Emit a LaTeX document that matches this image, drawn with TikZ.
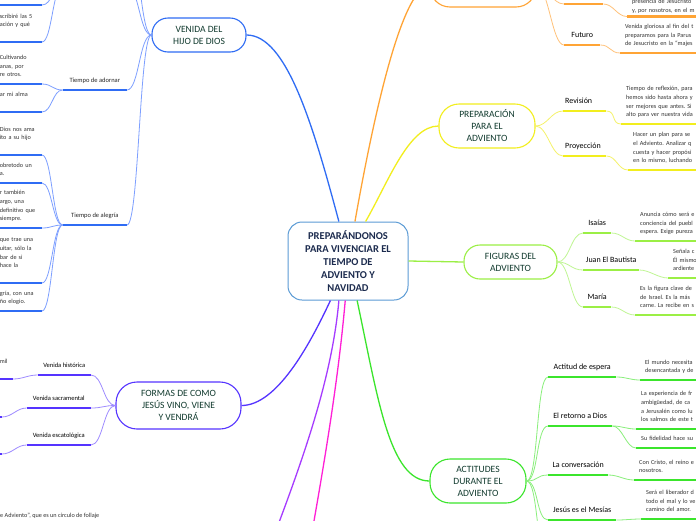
\documentclass[tikz,border=0pt]{standalone}
\usepackage{fontspec}
\setmainfont{Carlito}
\frenchspacing
\definecolor{rootline}{HTML}{5B9BD5}
\definecolor{roottext}{HTML}{1C2B4E}
\definecolor{headtext}{HTML}{123B2F}
\definecolor{leaftext}{HTML}{333333}
\definecolor{venc}{HTML}{2F6CF4}
\definecolor{venl}{HTML}{7D9FFF}
\definecolor{orac}{HTML}{FFA435}
\definecolor{oral}{HTML}{FFC27A}
\definecolor{prec}{HTML}{F2EE1E}
\definecolor{prel}{HTML}{F5F26A}
\definecolor{figc}{HTML}{9BEF45}
\definecolor{figl}{HTML}{C0F694}
\definecolor{actc}{HTML}{3BE52C}
\definecolor{actl}{HTML}{8AEF7C}
\definecolor{forc}{HTML}{5534FF}
\definecolor{forl}{HTML}{9F8CFF}
\definecolor{purc}{HTML}{A63BFF}
\definecolor{magc}{HTML}{FF1FD6}

\begin{document}
\begin{tikzpicture}[x=1pt,y=-1pt,
  root/.style={draw=rootline,line width=1pt,rounded corners=14pt,fill=white,
    align=center,text=roottext,minimum width=120pt,minimum height=78pt,
    font=\bfseries\fontsize{10.5}{13}\selectfont},
  topic/.style={draw=#1,line width=1.1pt,rounded corners=16pt,fill=white,
    align=center,text=headtext,font=\fontsize{9.6}{12}\selectfont},
  ul/.style={append after command={(\tikzlastnode.south west)
    edge[draw=#1,line width=2.2pt] (\tikzlastnode.south east)}},
  sub/.style={inner xsep=2pt,inner ysep=0pt,text depth=7.5pt,text=black,
    font=\fontsize{8}{10}\selectfont},
  subl/.style={sub,anchor=south east,text=black!85,font=\fontsize{6.5}{8}\selectfont},
  subr/.style={sub,anchor=south west},
  leaf/.style={align=left,text width=100pt,inner xsep=5pt,inner ysep=4.4pt,
    text=leaftext,font=\fontsize{6.2}{8.7}\selectfont,execute at end node=\strut},
  leafl/.style={leaf,anchor=south east,text width=40pt,inner xsep=2pt},
  leafr/.style={leaf,anchor=south west},
  deep/.style={inner ysep=12.4pt},
  branch/.style={line width=1.3pt},
  link/.style={line width=0.8pt},
  lt/.style={out=180,in=0,distance=#1},lt/.default=10pt,
  rt/.style={out=0,in=180,distance=#1},rt/.default=10pt]
  \useasboundingbox[fill=white] (0,0) rectangle (696,520);
  \clip (0,0) rectangle (696,520);

  \node[root] (root) at (348,261) {PREPARÁNDONOS\\PARA VIVENCIAR EL\\TIEMPO DE\\ADVIENTO Y\\NAVIDAD};

  % venida del hijo de dios
  \node[topic=venc,minimum width=94pt,minimum height=34pt] (venida) at (199,35) {VENIDA DEL\\HIJO DE DIOS};
  \node[subl,minimum width=64pt,ul=venc] (vtop) at (127,-14) {};
  \node[subl,minimum width=64pt,ul=venc] (vtop2) at (127,-70) {};
  \node[subl,minimum width=64pt,ul=venc] (adornar) at (127,90) {Tiempo de adornar};
  \node[subl,minimum width=64pt,ul=venc] (alegria) at (127,225) {Tiempo de alegría};
  \node[leafl,ul=venc] (tla) at (42,5) {};
  \node[leafl,deep,ul=venc] (tlb) at (42,42) {scribiré las 5\\ación y qué};
  \node[leafl,ul=venc] (ad1) at (42,84) {Cultivando\\anas, por\\re otros.};
  \node[leafl,deep,ul=venc] (ad2) at (42,112) {ar mi alma};
  \node[leafl,deep,ul=venc] (al1) at (42,155) {Dios nos ama\\ito a su hijo};
  \node[leafl,ul=venc] (al2) at (42,183) {obretodo un\\a.};
  \node[leafl,ul=venc] (al3) at (42,228) {r también\\argo, una\\definitivo que\\siempre.};
  \node[leafl,deep,ul=venc] (al4) at (42,283) {que trae una\\uitar, sólo la\\bar de si\\hace la};
  \node[leafl,ul=venc] (al5) at (42,311) {gría, con una\\ño elogio.};

  % formas de como
  \node[topic=forc,rounded corners=21pt,minimum width=125pt,minimum height=47pt] (formas) at (178.5,405.5) {FORMAS DE COMO\\JESÚS VINO, VIENE\\Y VENDRÁ};
  \node[subl,text=black,minimum width=53pt,ul=forc] (hist) at (91,375) {Venida histórica};
  \node[subl,text=black,minimum width=64pt,ul=forc] (sacr) at (91,408) {Venida sacramental};
  \node[subl,text=black,minimum width=64pt,ul=forc] (esca) at (91,445) {Venida escatológica};
  \node[leafl,deep,text width=11pt,ul=forc] (hist1) at (13,379) {mil};
  \node[leafl,text width=4pt,ul=forc] (sacr1) at (2,417) {};
  \node[leafl,text width=4pt,ul=forc] (esca1) at (2,454) {};
  \node[anchor=base west,inner sep=0pt,text=leaftext,font=\fontsize{6.2}{8.7}\selectfont] (corona) at (0,517.5) {e Adviento”, que es un círculo de follaje};

  \coordinate (purpura) at (250,600);
  \coordinate (magenta) at (300,600);

  % orange, off the top
  \node[topic=orac,rounded corners=20pt,minimum width=106pt,minimum height=42pt] (ora) at (483,-14) {};
  \node[subr,minimum width=39pt,ul=orac] (pres) at (564,4) {};
  \node[subr,minimum width=36pt,ul=orac] (futuro) at (564,45) {Futuro};
  \node[leafr,inner ysep=1pt,ul=orac] (presl) at (627,16.5) {presencia de Jesucristo\\y, por nosotros, en el m};
  \node[leafr,ul=orac] (futurol) at (620,53) {Venida gloriosa al fin del t\\preparamos para la Parus\\de Jesucristo en la “majes};

  % preparacion
  \node[topic=prec,rounded corners=20pt,minimum width=96pt,minimum height=44pt] (prep) at (487,126) {PREPARACIÓN\\PARA EL\\ADVIENTO};
  \node[subr,text width=39pt,align=left,ul=prec] (revision) at (563,111) {Revisión};
  \node[subr,text width=39pt,align=left,ul=prec] (proyeccion) at (563,156) {Proyección};
  \node[leafr,ul=prec] (revl) at (621,124) {Tiempo de reflexión, para\\hemos sido hasta ahora y\\ser mejores que antes. Si\\alto para ver nuestra vida};
  \node[leafr,ul=prec] (proyl) at (628,170) {Hacer un plan para se\\el Adviento. Analizar q\\cuesta y hacer propósi\\en lo mismo, luchando};

  % figuras
  \node[topic=figc,minimum width=93pt,minimum height=34pt] (figuras) at (510.5,262) {FIGURAS DEL\\ADVIENTO};
  \node[subr,minimum width=28pt,ul=figc] (isaias) at (583,233) {Isaías};
  \node[subr,minimum width=56pt,ul=figc] (juan) at (583,270) {Juan El Bautista};
  \node[subr,minimum width=28pt,ul=figc] (maria) at (583,307) {María};
  \node[leafr,ul=figc] (isal) at (635,241) {Anuncia cómo será e\\conciencia del puebl\\espera. Exige pureza};
  \node[leafr,ul=figc] (juanl) at (668,278) {Señala c\\Él mismo\\ardiente};
  \node[leafr,ul=figc] (marial) at (635,315) {Es la figura clave de\\de Israel. Es la más\\carne. La recibe en s};

  % actitudes
  \node[topic=actc,rounded corners=20pt,minimum width=96pt,minimum height=44pt] (actitudes) at (478,481) {ACTITUDES\\DURANTE EL\\ADVIENTO};
  \node[subr,minimum width=68pt,ul=actc] (espera) at (548,377) {Actitud de espera};
  \node[subr,minimum width=64pt,ul=actc] (retorno) at (548,426) {El retorno a Dios};
  \node[subr,minimum width=60pt,ul=actc] (conversion) at (548,475) {La conversación};
  \node[subr,minimum width=68pt,ul=actc] (mesias) at (548,520) {Jesús es el Mesías};
  \coordinate (actmas) at (548,560);
  \node[leafr,ul=actc] (esperal) at (640,380) {El mundo necesita\\desencantada y de};
  \node[leafr,ul=actc] (retornol) at (636,429) {La experiencia de fr\\ambigüedad, de ca\\a Jerusalén como lu\\los salmos de este t};
  \node[leafr,ul=actc] (retornom) at (636,448) {Su fidelidad hace su};
  \node[leafr,ul=actc] (conversionl) at (634,480) {Con Cristo, el reino e\\nosotros.};
  \node[leafr,ul=actc] (mesiasl) at (641,519) {Será el liberador d\\todo el mal y lo ve\\camino del amor.};

  % main branches
  \draw[branch,venc] (root.103) to[out=105,in=0,out distance=100pt,in distance=40pt] (venida.east);
  \draw[branch,orac] (root.80) to[out=80,in=180,out distance=80pt,in distance=30pt] (ora.west);
  \draw[branch,prec] (root.66) to[out=60,in=180,out distance=45pt,in distance=30pt] (prep.west);
  \draw[branch,figc] (root.east) -- (figuras.west);
  \draw[branch,actc] (root.-77) to[out=-78,in=180,out distance=100pt,in distance=40pt] (actitudes.west);
  \draw[branch,forc] (root.246) to[out=-115,in=0,out distance=50pt,in distance=35pt] (formas.east);
  \draw[branch,purc] (root.257) to[out=-95,in=70,distance=100pt] (purpura);
  \draw[branch,magc] (root.266) to[out=-95,in=80,distance=100pt] (magenta);

  \draw[link,venl] (venida.west) to[lt=12pt] (vtop.south east);
  \draw[link,venl] (venida.west) to[lt=12pt] (vtop2.south east);
  \draw[link,venl] (venida.west) to[lt=12pt] (adornar.south east);
  \draw[link,venl] (venida.west) to[lt=12pt] (alegria.south east);
  \draw[link,venl] (vtop.south west) to[lt] (tla.south east);
  \draw[link,venl] (vtop.south west) to[lt] (tlb.south east);
  \draw[link,venl] (adornar.south west) to[lt] (ad1.south east);
  \draw[link,venl] (adornar.south west) to[lt] (ad2.south east);
  \draw[link,venl] (alegria.south west) to[lt] (al1.south east);
  \draw[link,venl] (alegria.south west) to[lt] (al2.south east);
  \draw[link,venl] (alegria.south west) to[lt] (al3.south east);
  \draw[link,venl] (alegria.south west) to[lt] (al4.south east);
  \draw[link,venl] (alegria.south west) to[lt] (al5.south east);

  \draw[link,forl] (formas.west) to[lt=12pt] (hist.south east);
  \draw[link,forl] (formas.west) to[lt=12pt] (sacr.south east);
  \draw[link,forl] (formas.west) to[lt=12pt] (esca.south east);
  \draw[link,forl] (hist.south west) to[lt] (hist1.south east);
  \draw[link,forl] (sacr.south west) to[lt] (sacr1.south east);
  \draw[link,forl] (esca.south west) to[lt] (esca1.south east);

  \draw[link,oral] (ora.east) to[rt=12pt] (pres.south west);
  \draw[link,oral] (ora.east) to[rt=12pt] (futuro.south west);
  \draw[link,oral] (pres.south east) to[rt] (presl.south west);
  \draw[link,oral] (futuro.south east) to[rt] (futurol.south west);

  \draw[link,prel] (prep.east) to[rt=12pt] (revision.south west);
  \draw[link,prel] (prep.east) to[rt=12pt] (proyeccion.south west);
  \draw[link,prel] (revision.south east) to[rt] (revl.south west);
  \draw[link,prel] (proyeccion.south east) to[rt] (proyl.south west);

  \draw[link,figl] (figuras.east) to[rt=12pt] (isaias.south west);
  \draw[link,figl] (figuras.east) to[rt=12pt] (juan.south west);
  \draw[link,figl] (figuras.east) to[rt=12pt] (maria.south west);
  \draw[link,figl] (isaias.south east) to[rt] (isal.south west);
  \draw[link,figl] (juan.south east) to[rt] (juanl.south west);
  \draw[link,figl] (maria.south east) to[rt] (marial.south west);

  \draw[link,actl] (actitudes.east) to[rt=12pt] (espera.south west);
  \draw[link,actl] (actitudes.east) to[rt=12pt] (retorno.south west);
  \draw[link,actl] (actitudes.east) to[rt=12pt] (conversion.south west);
  \draw[link,actl] (actitudes.east) to[rt=12pt] (mesias.south west);
  \draw[link,actl] (actitudes.east) to[rt=12pt] (actmas);
  \draw[link,actl] (espera.south east) to[rt] (esperal.south west);
  \draw[link,actl] (retorno.south east) to[rt] (retornol.south west);
  \draw[link,actl] (retorno.south east) to[rt] (retornom.south west);
  \draw[link,actl] (conversion.south east) to[rt] (conversionl.south west);
  \draw[link,actl] (mesias.south east) to[rt] (mesiasl.south west);
\end{tikzpicture}
\end{document}
